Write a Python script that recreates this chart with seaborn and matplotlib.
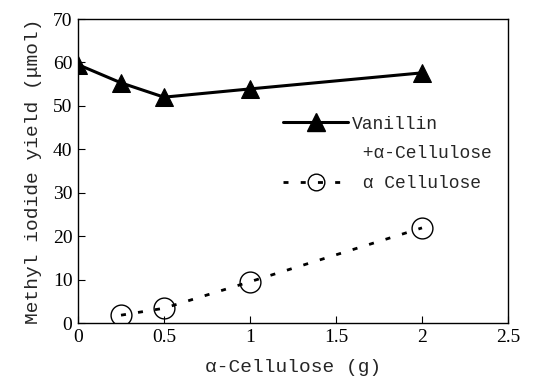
import matplotlib
matplotlib.use("Agg")
import matplotlib.pyplot as plt
import seaborn as sns
import pandas as pd
from matplotlib.lines import Line2D

# data
van_x = [0, 0.25, 0.5, 1, 2]
van_y = [59.5, 55.3, 52.0, 53.9, 57.6]
cel_x = [0.25, 0.5, 1, 2]
cel_y = [1.8, 3.4, 9.5, 21.9]
x_ticks = [0, 0.5, 1, 1.5, 2, 2.5]
x_tick_labels = ["0", "0.5", "1", "1.5", "2", "2.5"]
y_ticks = [0, 10, 20, 30, 40, 50, 60, 70]
legend_labels = ["Vanillin", " +α-Cellulose", " α Cellulose"]

sns.set_style("ticks")
plt.rcParams["font.family"] = ["Liberation Mono", "DejaVu Sans"]

fig = plt.figure(figsize=(5.55, 3.82), dpi=100)
ax = fig.add_axes([78/555, 1-323/382, 430/555, 304/382])

df_v = pd.DataFrame({"x": van_x, "y": van_y})
df_c = pd.DataFrame({"x": cel_x, "y": cel_y})

dash = (0, (1.8, 4.4))
sns.lineplot(data=df_v, x="x", y="y", ax=ax, color="black", linewidth=2.2,
             marker="^", markersize=13, markeredgecolor="black",
             markerfacecolor="black", label="_v")
sns.lineplot(data=df_c, x="x", y="y", ax=ax, color="black", linewidth=2.0,
             marker="o", markersize=15, markerfacecolor="none",
             markeredgecolor="black", markeredgewidth=1.0,
             linestyle=dash, label="_c")

ax.set_xlim(0, 2.5)
ax.set_ylim(0, 70)
ax.set_xticks(x_ticks)
ax.set_xticklabels(x_tick_labels)
ax.set_yticks(y_ticks)
for lab in ax.get_xticklabels() + ax.get_yticklabels():
    lab.set_fontfamily("Liberation Serif")
    lab.set_fontsize(14)
ax.tick_params(direction="in", length=5, width=0.8, colors="black", pad=4)
for s in ax.spines.values():
    s.set_color("black")
    s.set_linewidth(1.0)

ax.set_xlabel("α-Cellulose (g)", fontsize=14, labelpad=10)
ax.set_ylabel("Methyl iodide yield (μmol)", fontsize=14, labelpad=8)

h1 = Line2D([], [], color="black", linewidth=2.2, marker="^", markersize=13)
h2 = Line2D([], [], color="none")
h3 = Line2D([], [], color="black", linewidth=2.0, linestyle=dash,
            marker="o", markersize=12, markerfacecolor="none",
            markeredgecolor="black", markeredgewidth=1.0)
ax.legend([h1, h2, h3], legend_labels, loc="upper left",
          bbox_to_anchor=(0.44, 0.735), frameon=False, fontsize=13,
          handlelength=3.6, handletextpad=0.2, labelspacing=0.7)

fig.savefig("out.png", dpi=100)
